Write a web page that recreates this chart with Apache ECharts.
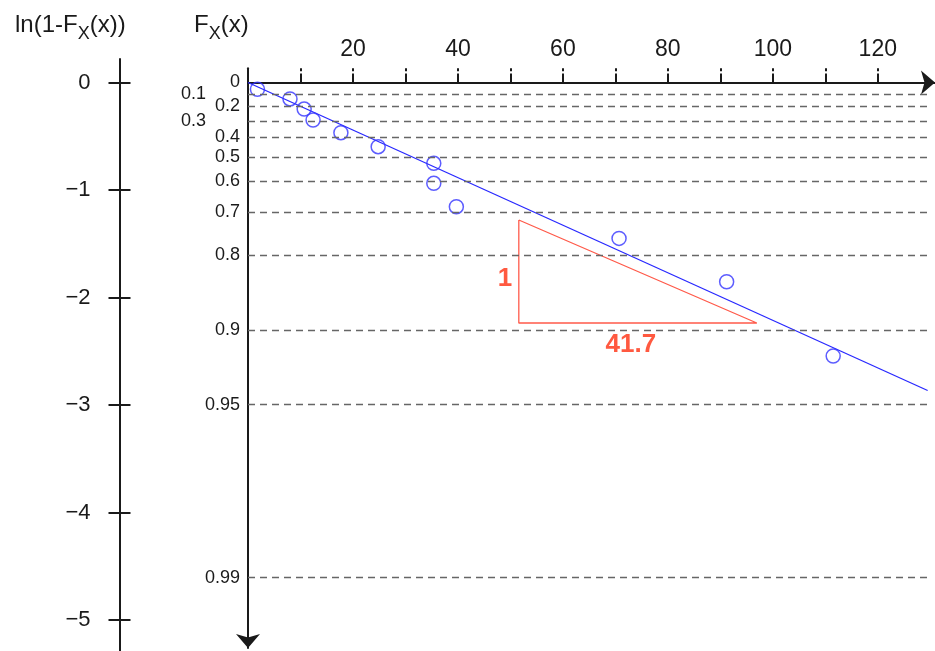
<!DOCTYPE html>
<html>
<head>
<meta charset="utf-8">
<script src="https://cdn.jsdelivr.net/npm/echarts@6/dist/echarts.min.js"></script>
<style>
  html, body { margin: 0; padding: 0; background: #fff; }
  #chart { width: 935px; height: 651px; }
</style>
</head>
<body>
<div id="chart"></div>
<script>
// data: x and plotting position ln(1-F)
var xValues = [1.8, 8.0, 10.7, 12.4, 17.7, 24.8, 35.4, 35.4, 39.7, 70.7, 91.2, 111.5];
var lnValues = [-0.063, -0.153, -0.247, -0.349, -0.467, -0.597, -0.752, -0.938, -1.155, -1.45, -1.853, -2.544];
// fitted line through the origin
var fitLine = [[0, 0], [129.5, -2.865]];
// F_X(x) levels on the probability scale
var fLevels = [0, 0.1, 0.2, 0.3, 0.4, 0.5, 0.6, 0.7, 0.8, 0.9, 0.95, 0.99];
var lnTicks = [0, -1, -2, -3, -4, -5];
var xTicks = [10, 20, 30, 40, 50, 60, 70, 80, 90, 100, 110, 120];
var xLabels = [20, 40, 60, 80, 100, 120];
// slope triangle and its labels
var triangle = [[51.6, -1.279], [51.6, -2.237], [96.95, -2.237], [51.6, -1.279]];
var notes = [[48.95, -1.828, '1'], [72.95, -2.44, '41.7']];

var fontFam = "'Liberation Sans', Arial, sans-serif";
var ink = '#1a1a1a';

var fPos = fLevels.map(function (f) { return Math.log(1 - f); });
var points = xValues.map(function (x, i) { return [x, lnValues[i]]; });
var dashLines = fPos.slice(1).map(function (v) {
  return [{ coord: [0, v] }, { coord: [129.5, v] }];
});

var subStyle = { fontSize: 18, padding: [17, 0, 0, 0], fontFamily: fontFam, color: ink };

var chart = echarts.init(document.getElementById('chart'));
var option = {
  animation: false,
  textStyle: { fontFamily: fontFam },
  title: [
    {
      text: 'ln(1-F{sub|X}(x))', left: 10, top: 3,
      textStyle: { fontSize: 24, fontWeight: 'normal', color: ink, fontFamily: fontFam, rich: { sub: subStyle } }
    },
    {
      text: 'F{sub|X}(x)', left: 189, top: 3,
      textStyle: { fontSize: 24, fontWeight: 'normal', color: ink, fontFamily: fontFam, rich: { sub: subStyle } }
    }
  ],
  grid: [
    { left: 248, top: 68.3, right: 0, height: 579.7 },
    { left: 119.5, top: 59, width: 10, height: 592 }
  ],
  xAxis: [
    {
      gridIndex: 0, type: 'value', position: 'top', min: 0, max: 130.9,
      axisLine: { onZero: true, symbol: ['none', 'arrow'], symbolSize: [18, 14],
        lineStyle: { color: ink, width: 2 } },
      axisTick: { customValues: xTicks, length: 9, lineStyle: { color: ink, width: 2 } },
      axisLabel: { customValues: xLabels, fontSize: 23, color: ink, margin: 7 },
      splitLine: { show: false }
    },
    {
      gridIndex: 0, type: 'value', position: 'top', min: 0, max: 130.9,
      axisLine: { show: false, onZero: true },
      axisTick: { customValues: xTicks, inside: true, length: 3, lineStyle: { color: ink, width: 2 } },
      axisLabel: { show: false },
      splitLine: { show: false }
    },
    { gridIndex: 1, type: 'value', min: 0, max: 1, show: false }
  ],
  yAxis: [
    {
      gridIndex: 0, type: 'value', min: -5.26, max: 0.132, position: 'left',
      axisLine: { show: true, symbol: ['arrow', 'none'], symbolSize: [18, 14],
        lineStyle: { color: ink, width: 2 } },
      axisTick: { show: false },
      axisLabel: {
        customValues: fPos, fontSize: 18, color: ink, margin: 8,
        formatter: function (v) {
          var f = 1 - Math.exp(v);
          var best = fLevels[0];
          fLevels.forEach(function (l) { if (Math.abs(l - f) < Math.abs(best - f)) best = l; });
          var s = String(best);
          return (best === 0.1 || best === 0.3) ? '{far|' + s + '}' : s;
        },
        rich: { far: { fontSize: 18, color: ink, fontFamily: fontFam, padding: [0, 34, 0, 0] } }
      },
      splitLine: { show: false }
    },
    {
      gridIndex: 1, type: 'value', min: -5.288, max: 0.2186, position: 'left',
      axisLine: { show: true, lineStyle: { color: ink, width: 2 } },
      axisTick: { customValues: lnTicks, length: 11, lineStyle: { color: ink, width: 2 } },
      axisLabel: {
        customValues: lnTicks, fontSize: 22, color: ink, margin: 29,
        formatter: function (v) { return String(v).replace('-', '\u2212'); }
      },
      splitLine: { show: false }
    },
    {
      gridIndex: 1, type: 'value', min: -5.288, max: 0.2186, position: 'left',
      axisLine: { show: false },
      axisTick: { customValues: lnTicks, inside: true, length: 11, lineStyle: { color: ink, width: 2 } },
      axisLabel: { show: false },
      splitLine: { show: false }
    }
  ],
  series: [
    {
      name: 'grid', type: 'line', xAxisIndex: 0, yAxisIndex: 0, data: [], silent: true,
      markLine: {
        silent: true, symbol: ['none', 'none'], label: { show: false },
        lineStyle: { color: '#666', width: 1.3, type: [7, 5] },
        data: dashLines
      }
    },
    {
      name: 'fit', type: 'line', xAxisIndex: 0, yAxisIndex: 0, data: fitLine,
      showSymbol: false, lineStyle: { color: '#2828ff', width: 1.3 }, z: 3
    },
    {
      name: 'slope', type: 'line', xAxisIndex: 0, yAxisIndex: 0, data: triangle,
      showSymbol: false, lineStyle: { color: '#ff5a4a', width: 1.3 }, z: 3
    },
    {
      name: 'data', type: 'scatter', xAxisIndex: 0, yAxisIndex: 0, data: points,
      symbol: 'circle', symbolSize: 14, z: 4,
      itemStyle: { color: 'rgba(0,0,0,0)', borderColor: '#3535ff', borderWidth: 1.5 }
    },
    {
      name: 'notes', type: 'scatter', xAxisIndex: 0, yAxisIndex: 0, data: notes,
      symbolSize: 1, itemStyle: { color: 'rgba(0,0,0,0)' }, z: 5,
      label: {
        show: true, position: 'inside', fontSize: 26, fontWeight: 'bold', color: '#ff3010',
        formatter: function (p) { return p.value[2]; }
      }
    }
  ]
};
chart.setOption(option);
window.addEventListener('resize', function () { chart.resize(); });
</script>
</body>
</html>
